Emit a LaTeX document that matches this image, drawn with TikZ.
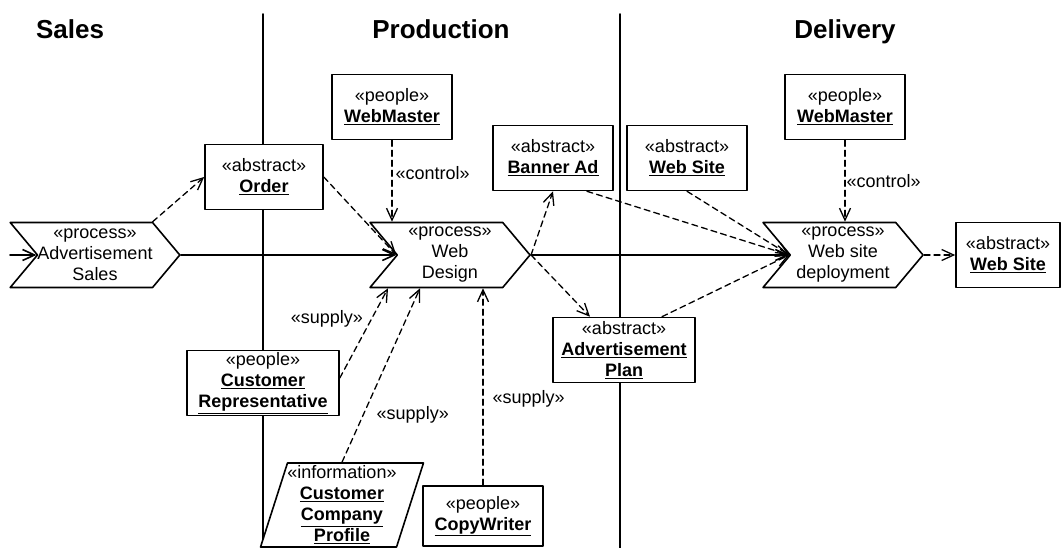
\documentclass[tikz,border=0pt]{standalone}
\usepackage{fontspec}
\setmainfont{Liberation Sans}
\usetikzlibrary{arrows.meta,shapes.symbols,shapes.geometric}
\newcommand{\obj}[1]{\underline{\textbf{#1}}}
\begin{document}
\begin{tikzpicture}[>={Straight Barb[length=12pt,width=11pt]}, line join=round, line cap=round, x=1pt, y=-1pt,
    every node/.style={font=\fontsize{18}{21}\selectfont, align=center, inner sep=0pt},
    box/.style={draw, fill=white, line width=1.6pt, minimum width=118pt, minimum height=65pt},
    proc/.style={draw, fill=white, line width=1.6pt, signal, signal from=west, signal to=east,
        signal pointer angle=100, minimum width=160pt, minimum height=65pt},
    para/.style={draw, fill=white, line width=1.6pt, trapezium, trapezium left angle=71,
        trapezium right angle=109, trapezium stretches=true, minimum width=147pt, minimum height=84pt},
    dep/.style={->, line width=1.3pt, dash pattern=on 6pt off 4pt},
    flow/.style={->, line width=1.6pt},
    lane/.style={line width=1.6pt},
    head/.style={anchor=base, font=\fontsize{26}{30}\selectfont\bfseries}]
    \useasboundingbox (0,0) rectangle (1062,548);
    \node[head] (hsales) at (70,39) {Sales};
    \node[head] (hprod) at (441,39) {Production};
    \node[head] (hdel) at (845,39) {Delivery};
    \draw[lane] (263,14) -- (263,548);
    \draw[lane] (620,14) -- (620,548);

    \node[proc] (sales) at (95,255) {«process»\\Advertisement\\Sales};
    \node[box] (order) at (264,177) {«abstract»\\\obj{Order}};
    \node[box, minimum width=120pt] (wm1) at (392,107) {«people»\\\obj{WebMaster}};
    \node[proc] (design) at (450,255) {«process»\\Web\\Design};
    \node[box, minimum width=120pt] (banner) at (553,158) {«abstract»\\\obj{Banner Ad}};
    \node[box, minimum width=120pt] (site1) at (687,158) {«abstract»\\\obj{Web Site}};
    \node[box, minimum width=120pt] (wm2) at (845,107) {«people»\\\obj{WebMaster}};
    \node[proc] (deploy) at (843,255) {«process»\\Web site\\deployment};
    \node[box, minimum width=104pt] (site2) at (1008,255) {«abstract»\\\obj{Web Site}};
    \node[box, minimum width=142pt] (plan) at (624,350) {«abstract»\\\obj{Advertisement}\\\obj{Plan}};
    \node[box, minimum width=152pt] (rep) at (263,383) {«people»\\\obj{Customer}\\\obj{Representative}};
    \node[para] (profile) at (342,505) {«information»\\\obj{Customer}\\\obj{Company}\\\obj{Profile}};
    \node[box, minimum width=120pt, minimum height=60pt] (copy) at (483,516) {«people»\\\obj{CopyWriter}};

    \coordinate (in) at (10,255);
    \draw[flow] (in) -- (sales.west);
    \draw[flow] (sales.east) -- (design.west);
    \draw[flow] (design.east) -- (deploy.west);
    \draw[dep] (sales.30) -- (order.west);
    \draw[dep] (order.east) -- (design.west);
    \draw[dep] (wm1) -- (wm1 |- design.north) node[pos=.4, right=3pt] {«control»};
    \draw[dep] ([yshift=5pt]rep.east) -- ([xshift=-62pt]design.south) node[pos=.66, left=8pt] {«supply»};
    \draw[dep] (profile.north) -- ([xshift=-30pt]design.south) node[pos=.27, right=13pt] {«supply»};
    \draw[dep] (copy) -- (copy |- design.south) node[pos=.44, right=9pt] {«supply»};
    \draw[dep] (design.east) -- (banner.south);
    \draw[dep] (design.east) -- ([xshift=-34pt]plan.north);
    \draw[dep] ([xshift=34pt]banner.south) -- (deploy.west);
    \draw[dep] (site1.south) -- (deploy.west);
    \draw[dep] ([xshift=38pt]plan.north) -- (deploy.west);
    \draw[dep] (wm2) -- (wm2 |- deploy.north) node[pos=.5, right=1pt] {«control»};
    \draw[dep] (deploy.east) -- (site2.west);
\end{tikzpicture}
\end{document}
